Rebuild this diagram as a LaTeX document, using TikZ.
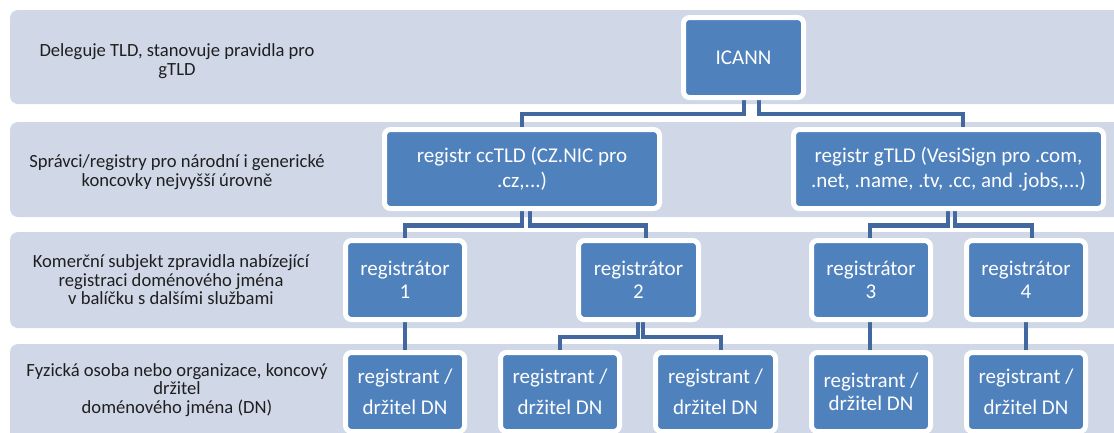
\documentclass[tikz,border=0pt]{standalone}
\usepackage{fontspec}
\setmainfont{Carlito}
\usetikzlibrary{backgrounds}
\definecolor{bandc}{HTML}{D0D8E8}
\definecolor{nodeblue}{HTML}{4F81BD}
\definecolor{connc}{HTML}{41699F}
\begin{document}
\begin{tikzpicture}[x=1pt,y=-1pt,
  bandbox/.style={fill=bandc, rounded corners=8pt},
  lbl/.style={font=\fontsize{18.6}{18.5}\selectfont, text=black!88, align=center, inner sep=0pt},
  blk/.style={draw=white, line width=5pt, fill=nodeblue, rounded corners=6pt, text=white,
    font=\fontsize{21}{23}\selectfont, align=center, inner sep=0pt, minimum height=79pt},
  widebox/.style={blk, font=\fontsize{21}{25}\selectfont},
  connline/.style={draw=connc, line width=4.5pt}]
\useasboundingbox (0,0) rectangle (1114,432);
\clip (0,0) rectangle (1114,432);

% nodes
\node[blk, minimum width=120pt, minimum height=80pt] (icann) at (743.5,57.5) {ICANN};
\node[widebox, minimum width=275pt] (cc) at (522,169) {registr ccTLD (CZ.NIC pro\\.cz,...)};
\node[widebox, minimum width=310pt] (g) at (948.5,169) {registr gTLD (VesiSign pro .com,\\.net, .name, .tv, .cc, and .jobs,...)};

\node[blk, minimum width=119pt] (r1) at (405,280) {registrátor\\1};
\node[blk, minimum width=120pt] (r2) at (638.5,280) {registrátor\\2};
\node[blk, minimum width=119pt] (r3) at (871,280) {registrátor\\3};
\node[blk, minimum width=119pt] (r4) at (1026,280) {registrátor\\4};

\node[blk, minimum width=119pt] (d1) at (405,392) {registrant /\\[8pt]držitel DN};
\node[blk, minimum width=119pt] (d2) at (560,392) {registrant /\\[8pt]držitel DN};
\node[blk, minimum width=120pt] (d3) at (715.5,392) {registrant /\\[8pt]držitel DN};
\node[blk, minimum width=119pt] (d4) at (871,392) {registrant /\\držitel DN};
\node[blk, minimum width=119pt] (d5) at (1026,392) {registrant /\\[8pt]držitel DN};

% row labels
\node[lbl] (l1) at (177,61) {Deleguje TLD, stanovuje pravidla pro\\gTLD};
\node[lbl] (l2) at (177,172) {Správci/registry pro národní i generické\\koncovky nejvyšší úrovně};
\node[lbl] (l3) at (171,280) {Komerční subjekt zpravidla nabízející\\registraci doménového jména\\v balíčku s dalšími službami};
\node[lbl] (l4) at (177,390) {Fyzická osoba nebo organizace, koncový\\držitel\\doménového jména (DN)};

\begin{scope}[on background layer]
  \fill[bandbox] (10,10) rectangle (1140,104);
  \fill[bandbox] (10,122) rectangle (1140,217);
  \fill[bandbox] (10,232) rectangle (1140,328);
  \fill[bandbox] (10,344) rectangle (1140,460);

  \coordinate (h1) at (0,114);
  \coordinate (h2) at (0,225.5);
  \coordinate (h3) at (0,337);

  \coordinate (ia) at ([xshift=0.5pt]icann.south);
  \coordinate (ib) at ([xshift=15.5pt]icann.south);
  \draw[connline] (ia) -- (ia |- h1) -| (cc.north);
  \draw[connline] (ib) -- (ib |- h1) -| ([xshift=14.5pt]g.north);

  \coordinate (ca) at (cc.south);
  \coordinate (cb) at ([xshift=8pt]cc.south);
  \draw[connline] (ca) -- (ca |- h2) -| (r1.north);
  \draw[connline] (cb) -- (cb |- h2) -| ([xshift=7.5pt]r2.north);

  \coordinate (ga) at ([xshift=-0.5pt]g.south);
  \coordinate (gb) at ([xshift=6.5pt]g.south);
  \draw[connline] (ga) -- (ga |- h2) -| ([xshift=-1pt]r3.north);
  \draw[connline] (gb) -- (gb |- h2) -| ([xshift=6pt]r4.north);

  \coordinate (ra) at ([xshift=-0.5pt]r2.south);
  \coordinate (rb) at ([xshift=4.5pt]r2.south);
  \draw[connline] (ra) -- (ra |- h3) -| (d2.north);
  \draw[connline] (rb) -- (rb |- h3) -| ([xshift=5.5pt]d3.north);

  \draw[connline] (r1.south) -- (d1.north);
  \draw[connline] ([xshift=-1pt]r3.south) -- ([xshift=-1pt]d4.north);
  \draw[connline] (r4.south) -- (d5.north);
\end{scope}
\end{tikzpicture}
\end{document}
